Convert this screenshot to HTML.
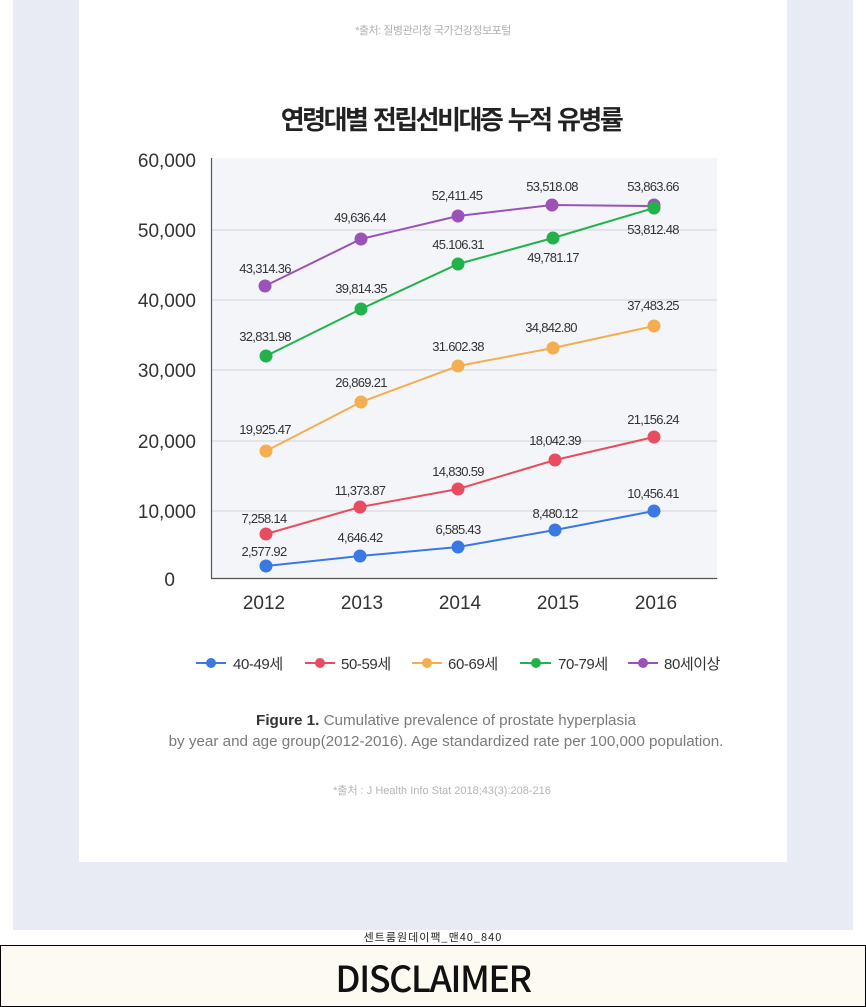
<!DOCTYPE html>
<html>
<head>
<meta charset="utf-8">
<style>
html,body{margin:0;padding:0;background:#fff;}
body{width:866px;height:1000px;position:relative;overflow:hidden;font-family:"Liberation Sans","Noto Sans CJK KR",sans-serif;}
.panel{position:absolute;left:13px;top:0;width:840px;height:930px;background:#e8ebf3;}
.card{position:absolute;left:79px;top:0;width:708px;height:862px;background:#fff;}
svg{position:absolute;left:0;top:0;}
.cap{position:absolute;left:0;width:866px;top:928px;text-align:center;font-size:11px;color:#222;font-family:"Noto Sans CJK KR","WenQuanYi Zen Hei",sans-serif;line-height:18px;letter-spacing:1px;}
.disc{position:absolute;left:0;top:945px;width:864px;height:60px;border:1px solid #000;background:#fdfbf1;}
.disc span{position:absolute;left:0;width:864px;top:6px;text-align:center;font-family:"Noto Sans CJK KR",sans-serif;font-size:36px;font-weight:500;letter-spacing:-1.5px;color:#111;line-height:50px;}
</style>
</head>
<body>
<div class="panel"></div>
<div class="card"></div>
<svg width="866" height="1000" viewBox="0 0 866 1000" xmlns="http://www.w3.org/2000/svg">
  <text x="433" y="34" text-anchor="middle" font-family="'Liberation Sans','Noto Sans CJK KR',sans-serif" font-size="11" fill="#b0b0b0" letter-spacing="-0.5">*출처: 질병관리청 국가건강정보포털</text>
  <text x="451" y="129" text-anchor="middle" font-family="'Noto Sans CJK KR',sans-serif" font-weight="bold" font-size="26" fill="#222" letter-spacing="-2.5" word-spacing="3">연령대별 전립선비대증 누적 유병률</text>

  <!-- plot bg -->
  <rect x="211" y="158" width="506" height="420" fill="#f4f5f9"/>
  <g stroke="#dcdee3" stroke-width="1.5">
    <line x1="211" y1="230" x2="717" y2="230"/>
    <line x1="211" y1="300" x2="717" y2="300"/>
    <line x1="211" y1="370" x2="717" y2="370"/>
    <line x1="211" y1="441" x2="717" y2="441"/>
    <line x1="211" y1="511" x2="717" y2="511"/>
  </g>
  <line x1="211.5" y1="158" x2="211.5" y2="578" stroke="#555" stroke-width="1.2"/>
  <line x1="211" y1="578.5" x2="717" y2="578.5" stroke="#555" stroke-width="1.2"/>

  <g font-family="'Liberation Sans',sans-serif" font-size="19" fill="#333" text-anchor="end">
    <text x="196" y="167">60,000</text>
    <text x="196" y="237">50,000</text>
    <text x="196" y="307">40,000</text>
    <text x="196" y="377">30,000</text>
    <text x="196" y="448">20,000</text>
    <text x="196" y="518">10,000</text>
    <text x="175" y="586">0</text>
  </g>
  <g font-family="'Liberation Sans',sans-serif" font-size="19" fill="#333" text-anchor="middle">
    <text x="264" y="609">2012</text>
    <text x="362" y="609">2013</text>
    <text x="460" y="609">2014</text>
    <text x="558" y="609">2015</text>
    <text x="656" y="609">2016</text>
  </g>

  <!-- series -->
  <g stroke-width="2" fill="none">
    <polyline stroke="#9b52b8" points="265,286 361,239 458,216 552,205 654,206"/>
    <polyline stroke="#22b24c" points="266,356 361,309 458,264 553,238 654,208"/>
    <polyline stroke="#f4ae4f" points="266,451 361,402 458,366 553,348 654,326"/>
    <polyline stroke="#e84d5f" points="266,534 360,507 458,489 555,460 654,437"/>
    <polyline stroke="#3a78e4" points="266,566 360,556 458,547 555,530 654,511"/>
  </g>
  <g fill="#9b52b8">
    <circle cx="265" cy="286" r="6.5"/><circle cx="361" cy="239" r="6.5"/><circle cx="458" cy="216" r="6.5"/><circle cx="552" cy="205" r="6.5"/><circle cx="654" cy="205" r="6.5"/>
  </g>
  <g fill="#22b24c">
    <circle cx="266" cy="356" r="6.5"/><circle cx="361" cy="309" r="6.5"/><circle cx="458" cy="264" r="6.5"/><circle cx="553" cy="238" r="6.5"/><circle cx="654" cy="208" r="6.5"/>
  </g>
  <g fill="#f4ae4f">
    <circle cx="266" cy="451" r="6.5"/><circle cx="361" cy="402" r="6.5"/><circle cx="458" cy="366" r="6.5"/><circle cx="553" cy="348" r="6.5"/><circle cx="654" cy="326" r="6.5"/>
  </g>
  <g fill="#e84d5f">
    <circle cx="266" cy="534" r="6.5"/><circle cx="360" cy="507" r="6.5"/><circle cx="458" cy="489" r="6.5"/><circle cx="555" cy="460" r="6.5"/><circle cx="654" cy="437" r="6.5"/>
  </g>
  <g fill="#3a78e4">
    <circle cx="266" cy="566" r="6.5"/><circle cx="360" cy="556" r="6.5"/><circle cx="458" cy="547" r="6.5"/><circle cx="555" cy="530" r="6.5"/><circle cx="654" cy="511" r="6.5"/>
  </g>

  <!-- data labels -->
  <g font-family="'Liberation Sans',sans-serif" font-size="13" fill="#333" text-anchor="middle" letter-spacing="-0.7">
    <text x="265" y="273">43,314.36</text>
    <text x="360" y="222">49,636.44</text>
    <text x="457" y="200">52,411.45</text>
    <text x="552" y="191">53,518.08</text>
    <text x="653" y="191">53,863.66</text>

    <text x="265" y="341">32,831.98</text>
    <text x="361" y="293">39,814.35</text>
    <text x="458" y="249">45.106.31</text>
    <text x="553" y="262">49,781.17</text>
    <text x="653" y="234">53,812.48</text>

    <text x="265" y="434">19,925.47</text>
    <text x="361" y="387">26,869.21</text>
    <text x="458" y="351">31.602.38</text>
    <text x="551" y="332">34,842.80</text>
    <text x="653" y="310">37,483.25</text>

    <text x="264" y="523">7,258.14</text>
    <text x="360" y="495">11,373.87</text>
    <text x="458" y="476">14,830.59</text>
    <text x="555" y="445">18,042.39</text>
    <text x="653" y="424">21,156.24</text>

    <text x="264" y="556">2,577.92</text>
    <text x="360" y="542">4,646.42</text>
    <text x="458" y="534">6,585.43</text>
    <text x="555" y="518">8,480.12</text>
    <text x="653" y="498">10,456.41</text>
  </g>

  <!-- legend -->
  <g stroke-width="2">
    <line x1="196" y1="663" x2="226" y2="663" stroke="#3a78e4"/>
    <line x1="305" y1="663" x2="335" y2="663" stroke="#e84d5f"/>
    <line x1="412" y1="663" x2="442" y2="663" stroke="#f4ae4f"/>
    <line x1="520" y1="663" x2="551" y2="663" stroke="#22b24c"/>
    <line x1="628" y1="663" x2="658" y2="663" stroke="#9b52b8"/>
  </g>
  <circle cx="211" cy="663" r="5" fill="#3a78e4"/>
  <circle cx="320" cy="663" r="5" fill="#e84d5f"/>
  <circle cx="427" cy="663" r="5" fill="#f4ae4f"/>
  <circle cx="536" cy="663" r="5" fill="#22b24c"/>
  <circle cx="643" cy="663" r="5" fill="#9b52b8"/>
  <g font-family="'Liberation Sans','Noto Sans CJK KR',sans-serif" font-size="15" fill="#333" letter-spacing="-0.4">
    <text x="233" y="669">40-49세</text>
    <text x="341" y="669">50-59세</text>
    <text x="448" y="669">60-69세</text>
    <text x="558" y="669">70-79세</text>
    <text x="664" y="669">80세이상</text>
  </g>

  <!-- caption -->
  <g font-family="'Liberation Sans',sans-serif" font-size="15.2" fill="#7a7a7a" text-anchor="middle" letter-spacing="0">
    <text x="446" y="725"><tspan font-weight="bold" fill="#333">Figure 1.</tspan> Cumulative prevalence of prostate hyperplasia</text>
    <text x="446" y="746">by year and age group(2012-2016). Age standardized rate per 100,000 population.</text>
  </g>
  <text x="442" y="794" text-anchor="middle" font-family="'Liberation Sans','Noto Sans CJK KR',sans-serif" font-size="11" fill="#b5b5b5" letter-spacing="0">*출처 : J Health Info Stat 2018;43(3):208-216</text>
</svg>
<div class="cap">센트룸원데이팩_맨40_840</div>
<div class="disc"><span>DISCLAIMER</span></div>
</body>
</html>
